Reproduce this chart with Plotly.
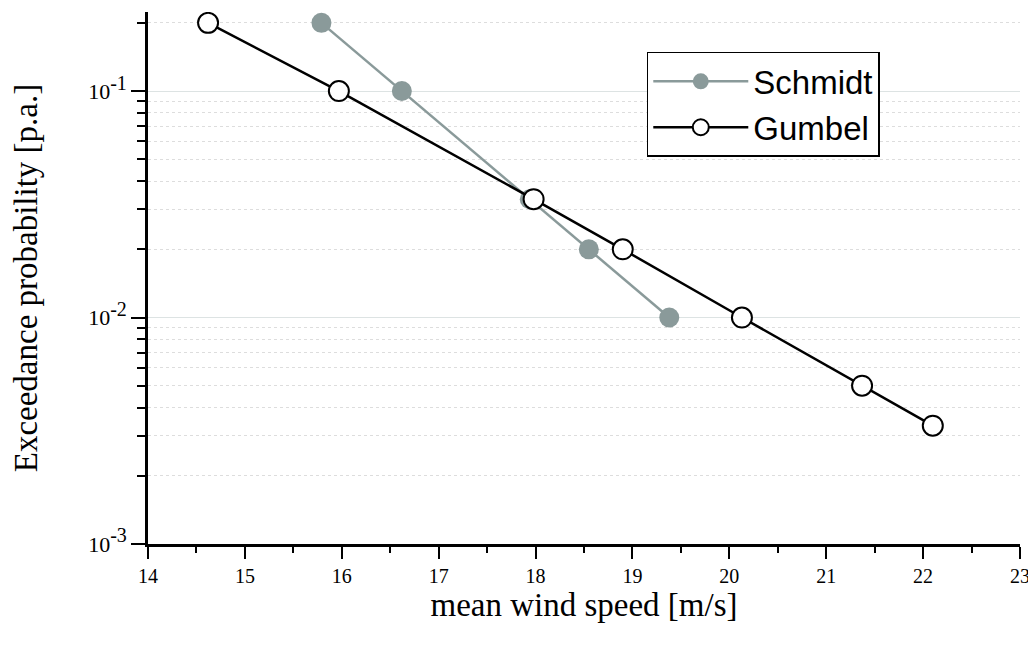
import plotly.graph_objects as go

schmidt_x = [15.79, 16.62, 17.94, 18.55, 19.38]
schmidt_y = [0.2, 0.1, 0.0333, 0.02, 0.01]
gumbel_x = [14.62, 15.97, 17.98, 18.90, 20.13, 21.37, 22.10]
gumbel_y = [0.2, 0.1, 0.0333, 0.02, 0.01, 0.005, 0.00333]

y_tickvals = [0.001, 0.01, 0.1]
y_ticktext = ["10<sup><span style='font-size:20px'>-3</span></sup>",
              "10<sup><span style='font-size:20px'>-2</span></sup>",
              "10<sup><span style='font-size:20px'>-1</span></sup>"]
x_tickvals = list(range(14, 24))

grey = "#8a9a9a"
serif = "Liberation Serif, Times New Roman, serif"
sans = "Liberation Sans, Arial, sans-serif"

fig = go.Figure()
fig.add_trace(go.Scatter(
    x=schmidt_x, y=schmidt_y, name="Schmidt", mode="lines+markers",
    line=dict(color=grey, width=2.5),
    marker=dict(size=20, color=grey, line=dict(color=grey, width=0)),
))
fig.add_trace(go.Scatter(
    x=gumbel_x, y=gumbel_y, name="Gumbel", mode="lines+markers",
    line=dict(color="black", width=2.5),
    marker=dict(size=20, color="white", line=dict(color="black", width=2)),
))

fig.update_layout(
    width=1028, height=634,
    margin=dict(l=140, r=16, t=4, b=98),
    paper_bgcolor="white", plot_bgcolor="white",
    showlegend=True,
    legend=dict(
        x=0.572, y=0.925, xanchor="left", yanchor="top",
        bordercolor="black", borderwidth=1.5, bgcolor="white",
        font=dict(family=sans, size=33, color="black"),
        itemwidth=95, tracegroupgap=0,
    ),
    xaxis=dict(
        range=[14, 23], tickvals=x_tickvals,
        showgrid=False, zeroline=False,
        showline=True, linecolor="black", linewidth=2.5,
        ticks="outside", ticklen=12, tickwidth=1.5, tickcolor="black",
        minor=dict(dtick=0.5, ticks="outside", ticklen=6, tickwidth=1.5, tickcolor="black", showgrid=False),
        tickfont=dict(family=serif, size=20, color="black"),
        title=dict(text="mean wind speed [m/s]", font=dict(family=serif, size=33, color="black"), standoff=8),
    ),
    yaxis=dict(
        type="log", range=[-3, -0.651],
        tickvals=y_tickvals, ticktext=y_ticktext,
        showgrid=True, gridcolor="#dde3e3", gridwidth=1,
        zeroline=False,
        showline=True, linecolor="black", linewidth=2.5,
        ticks="outside", ticklen=14, tickwidth=1.5, tickcolor="black",
        minor=dict(dtick="D1", ticks="outside", ticklen=8, tickwidth=1.5, tickcolor="black",
                   showgrid=True, gridcolor="#dddddd", griddash="dot", gridwidth=1),
        tickfont=dict(family=serif, size=22, color="black"),
        title=dict(text="Exceedance probability [p.a.]", font=dict(family=serif, size=33, color="black"), standoff=42),
    ),
)

fig.write_html("out.html")
